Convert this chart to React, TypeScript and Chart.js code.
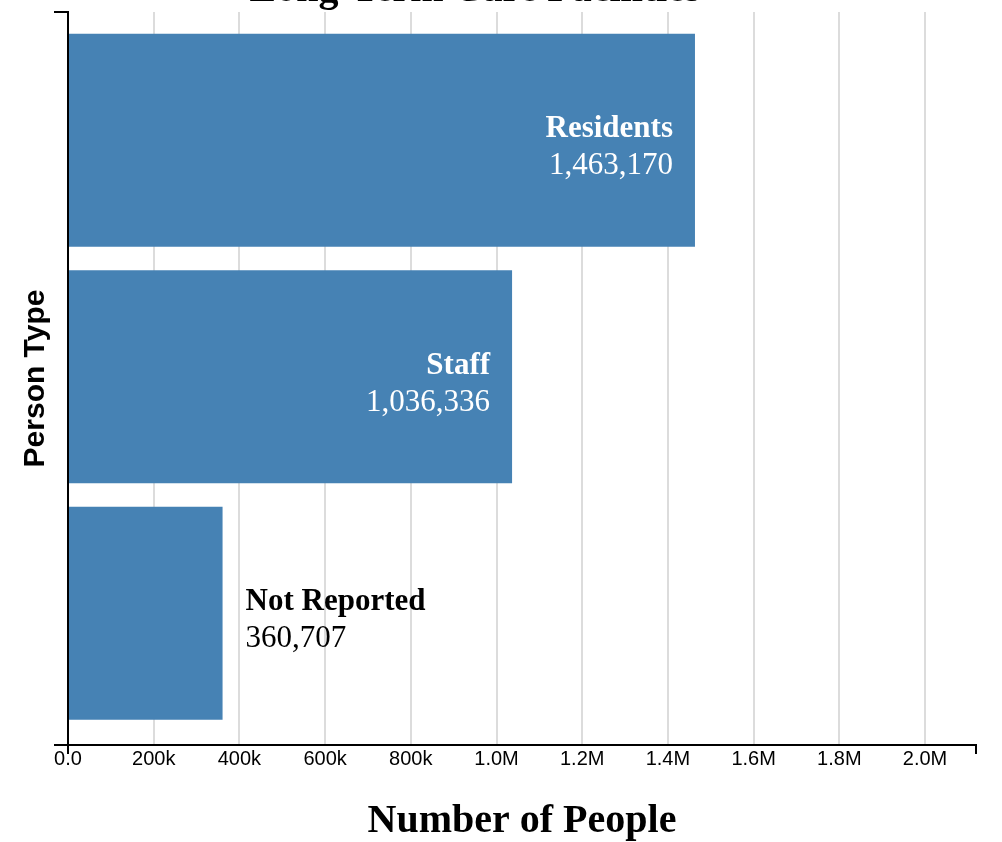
import React, { useEffect, useRef } from "react";
import { Chart, registerables } from "chart.js";

Chart.register(...registerables);

// ---- data ----
const chartTitle = "Long-Term Care Facilities";
const xAxisTitle = "Number of People";
const yAxisTitle = "Person Type";
const personTypes = ["Residents", "Staff", "Not Reported"];
const peopleCounts = [1463170, 1036336, 360707];
const xTickValues = [0, 200000, 400000, 600000, 800000, 1000000, 1200000, 1400000, 1600000, 1800000, 2000000];
const xDomainMax = 2119000;

// ---- style ----
const BAR_COLOR = "#4682b4";
const GRID_COLOR = "#dcdcdc";
const SERIF = '"Liberation Serif", "Times New Roman", Times, serif';
const SANS = '"Liberation Sans", Arial, Helvetica, sans-serif';
const W = 1002;
const H = 842;

function formatTick(v: number): string {
  if (v === 0) return "0.0";
  if (v < 1e6) return `${Math.round(v / 1000)}k`;
  return `${(v / 1e6).toFixed(1)}M`;
}

// axis domain lines with their end ticks, drawn beneath the bars
const axisFramePlugin = {
  id: "axisFrame",
  beforeDatasetsDraw(chart: any) {
    const { ctx, chartArea } = chart;
    const x0 = chart.scales.x.getPixelForValue(0);
    const { top, bottom, right } = chartArea;
    ctx.save();
    ctx.strokeStyle = "#000";
    ctx.lineWidth = 2;
    ctx.beginPath();
    // y domain + tick at top
    ctx.moveTo(x0 - 14, top);
    ctx.lineTo(x0, top);
    ctx.lineTo(x0, bottom + 9);
    // x domain + tick at right end
    ctx.moveTo(x0 - 14, bottom);
    ctx.lineTo(right, bottom);
    ctx.lineTo(right, bottom + 9);
    ctx.stroke();
    ctx.restore();
  },
};

// category name and value next to each bar end
const barLabelPlugin = {
  id: "barLabels",
  afterDatasetsDraw(chart: any) {
    const { ctx } = chart;
    const meta = chart.getDatasetMeta(0);
    ctx.save();
    ctx.textBaseline = "alphabetic";
    meta.data.forEach((bar: any, i: number) => {
      const name = personTypes[i];
      const value = peopleCounts[i].toLocaleString("en-US");
      const barWidth = bar.x - bar.base;
      ctx.font = `bold 31px ${SERIF}`;
      const nameW = ctx.measureText(name).width;
      const inside = nameW + 44 < barWidth;
      const tx = inside ? bar.x - 22 : bar.x + 23;
      ctx.textAlign = inside ? "right" : "left";
      ctx.fillStyle = inside ? "#fff" : "#000";
      ctx.fillText(name, tx, bar.y - 3);
      ctx.font = `31px ${SERIF}`;
      ctx.fillText(value, tx, bar.y + 34);
    });
    ctx.restore();
  },
};

// chart title and axis titles
const titlesPlugin = {
  id: "titles",
  afterDraw(chart: any) {
    const { ctx, chartArea } = chart;
    ctx.save();
    ctx.fillStyle = "#000";
    ctx.textBaseline = "alphabetic";
    ctx.textAlign = "center";
    ctx.font = `bold 40px ${SERIF}`;
    ctx.fillText(chartTitle, 475, 1);
    ctx.fillText(xAxisTitle, (chartArea.left + chartArea.right) / 2, 832);
    ctx.translate(44, (chartArea.top + chartArea.bottom) / 2);
    ctx.rotate(-Math.PI / 2);
    ctx.font = `bold 30px ${SANS}`;
    ctx.fillText(yAxisTitle, 0, 0);
    ctx.restore();
  },
};

export default function App() {
  const canvasRef = useRef<HTMLCanvasElement | null>(null);

  useEffect(() => {
    const canvas = canvasRef.current;
    if (!canvas) return;
    const chart = new Chart(canvas, {
      type: "bar",
      data: {
        datasets: [
          {
            label: xAxisTitle,
            data: personTypes.map((_, i) => ({ x: peopleCounts[i], y: i })) as any,
            backgroundColor: BAR_COLOR,
            borderWidth: 0,
            categoryPercentage: 0.9,
            barPercentage: 1,
          },
        ],
      },
      options: {
        indexAxis: "y",
        responsive: false,
        animation: false,
        devicePixelRatio: 1,
        layout: { padding: { left: 68, top: 12, right: 26, bottom: 69 } },
        plugins: {
          legend: { display: false },
          tooltip: { enabled: false },
          title: { display: false },
        },
        scales: {
          x: {
            type: "linear",
            position: "bottom",
            bounds: "data",
            min: 0,
            max: xDomainMax,
            afterBuildTicks: (scale: any) => {
              scale.ticks = xTickValues.map((v) => ({ value: v }));
            },
            ticks: {
              autoSkip: false,
              maxRotation: 0,
              padding: 2,
              color: "#000",
              font: { family: SANS, size: 20 },
              callback: (v: any) => formatTick(Number(v)),
            },
            grid: {
              color: GRID_COLOR,
              lineWidth: 2,
              drawTicks: false,
            },
            border: { display: false },
          },
          y: {
            type: "linear",
            reverse: true,
            offset: false,
            bounds: "data",
            min: -0.542,
            max: 2.557,
            display: false,
            grid: { offset: false },
            afterBuildTicks: (scale: any) => {
              scale.ticks = personTypes.map((_, i) => ({ value: i }));
            },
          },
        },
      },
      plugins: [axisFramePlugin, barLabelPlugin, titlesPlugin],
    } as any);
    return () => chart.destroy();
  }, []);

  return (
    <div style={{ position: "absolute", left: 0, top: 0, width: W, height: H, background: "#fff" }}>
      <canvas ref={canvasRef} width={W} height={H} style={{ display: "block", width: W, height: H }} />
    </div>
  );
}
